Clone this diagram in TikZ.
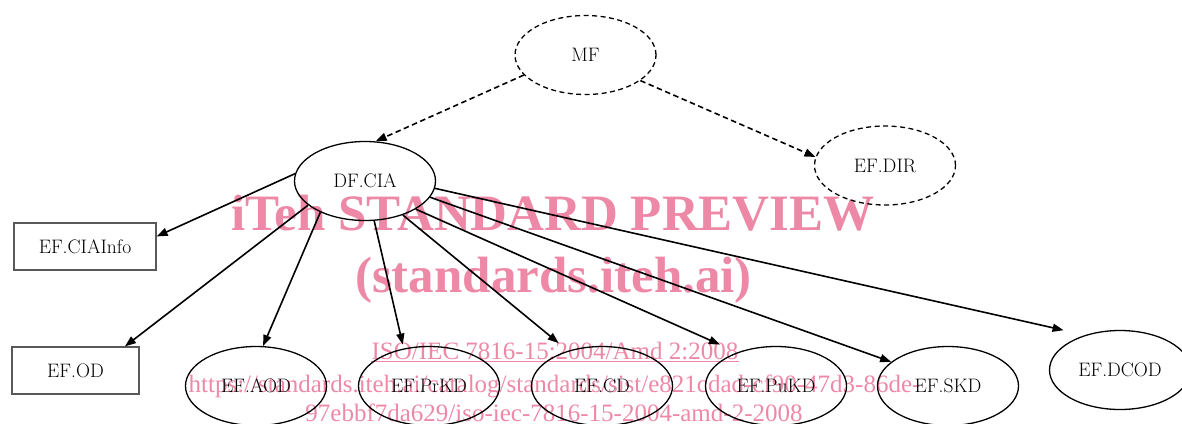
\documentclass[tikz,border=0pt]{standalone}
\usepackage{fontspec}
\newfontfamily\wmfont{Liberation Serif}
\usetikzlibrary{arrows.meta,shapes.geometric}
\definecolor{wm}{RGB}{237,137,166}
\tikzset{
  lbl/.style={font=\fontsize{19.5}{21}\selectfont},
  ell/.style={ellipse, draw, line width=1.3pt, minimum width=141pt, minimum height=79pt, inner sep=0pt, lbl},
  dell/.style={ell, dash pattern=on 5pt off 3.5pt},
  box/.style={rectangle, draw=black!65, line width=1.2pt, inner sep=0pt, lbl},
  edge/.style={line width=1.6pt, -{Triangle[length=11pt,width=8pt]}},
  dedge/.style={edge, dash pattern=on 5.5pt off 3.5pt},
  wmtext/.style={text=wm, inner sep=0pt, anchor=base},
  wmbig/.style={wmtext, font=\wmfont\bfseries\fontsize{51}{53}\selectfont},
  wmsmall/.style={wmtext, font=\wmfont\fontsize{25}{27}\selectfont}
}
\begin{document}
\begin{tikzpicture}[x=1pt,y=-1pt]
\useasboundingbox (0,0) rectangle (1182,423);
% watermark
\node[wmbig] (wm1) at (553,230) {iTeh STANDARD PREVIEW};
\node[wmbig] (wm2) at (553.5,292) {(standards.iteh.ai)};
\node[wmsmall] (wm3) at (555,359) {ISO/IEC 7816-15:2004/Amd 2:2008};
\draw[wm, line width=1.3pt] ([yshift=-2.7pt]wm3.base west) -- ([yshift=-2.7pt]wm3.base east);
\node[wmsmall] (wm4) at (554.5,392) {https://standards.iteh.ai/catalog/standards/sist/e821cdad-cf90-47d3-86de-};
\node[wmsmall] (wm5) at (554,421) {97ebbf7da629/iso-iec-7816-15-2004-amd-2-2008};
% nodes
\node[dell] (mf) at (585.5,55) {MF};
\node[ell] (cia) at (365,181) {DF.CIA};
\node[dell] (dir) at (885,165.5) {EF.DIR};
\node[box, minimum width=142pt, minimum height=47pt] (info) at (85,246.5) {EF.CIAInfo};
\node[box, minimum width=127pt, minimum height=47pt] (od) at (75.5,370.5) {EF.OD};
\node[ell] (aod) at (256,386) {EF.AOD};
\node[ell] (prkd) at (429,386) {EF.PrKD};
\node[ell] (cd) at (602,386) {EF.CD};
\node[ell] (pukd) at (776,386) {EF.PuKD};
\node[ell] (skd) at (948,386) {EF.SKD};
\node[ell] (dcod) at (1120,370) {EF.DCOD};
% edges
\draw[dedge] (mf.198) -- (cia.75);
\draw[dedge] (mf.335) -- (dir.173);
\draw[edge] (cia.174) -- (info.8);
\draw[edge] (cia.203) -- (od.26);
\draw[edge] (cia.215) -- (aod.80);
\draw[edge, shorten >=4pt] (cia.283) -- (prkd.124);
\draw[edge, shorten >=12pt] (cia.318) -- (cd.134);
\draw[edge, shorten >=19pt] (cia.331) -- (pukd.139);
\draw[edge] (cia.346) -- (skd.157);
\draw[edge, shorten >=22pt] (cia.354) -- (dcod.135);
\end{tikzpicture}
\end{document}
